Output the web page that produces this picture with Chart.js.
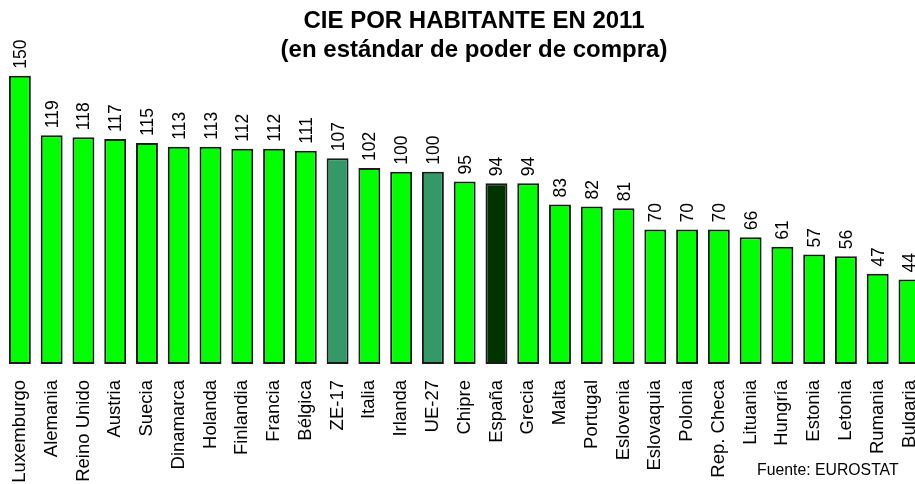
<!DOCTYPE html>
<html>
<head>
<meta charset="utf-8">
<script src="https://cdn.jsdelivr.net/npm/chart.js@4.4.1/dist/chart.umd.min.js"></script>
<style>
  html, body { margin: 0; padding: 0; background: #fff; overflow: hidden; }
  canvas { display: block; }
</style>
</head>
<body>
<canvas id="cieChart" width="948" height="484"></canvas>
<script>
const paises = ['Luxemburgo', 'Alemania', 'Reino Unido', 'Austria', 'Suecia', 'Dinamarca', 'Holanda',
    'Finlandia', 'Francia', 'Bélgica', 'ZE-17', 'Italia', 'Irlanda', 'UE-27', 'Chipre', 'España',
    'Grecia', 'Malta', 'Portugal', 'Eslovenia', 'Eslovaquia', 'Polonia', 'Rep. Checa', 'Lituania',
    'Hungría', 'Estonia', 'Letonia', 'Rumania', 'Bulgaria'];
const valores = [150, 119, 118, 117, 115, 113, 113, 112, 112, 111, 107, 102, 100, 100, 95, 94,
    94, 83, 82, 81, 70, 70, 70, 66, 61, 57, 56, 47, 44];
const titulo = ['CIE POR HABITANTE EN 2011', '(en estándar de poder de compra)'];
const fuente = 'Fuente: EUROSTAT';

const colorFor = (name) => {
    if (name === 'España') return '#003300';
    if (name === 'ZE-17' || name === 'UE-27') return '#339966';
    return '#00FF00';
};

// title, value labels and source text
const textPlugin = {
    id: 'textPlugin',
    afterDatasetsDraw(chart) {
        const ctx = chart.ctx;
        ctx.save();
        ctx.fillStyle = '#000';

        ctx.font = 'bold 24px "Liberation Sans", Arial, sans-serif';
        ctx.textAlign = 'center';
        ctx.textBaseline = 'alphabetic';
        ctx.fillText(titulo[0], 474, 28);
        ctx.fillText(titulo[1], 474, 57);

        ctx.font = '17.5px "Liberation Sans", Arial, sans-serif';
        const meta = chart.getDatasetMeta(0);
        meta.data.forEach((bar, i) => {
            ctx.save();
            ctx.translate(bar.x + 6, bar.y - 7);
            ctx.rotate(-Math.PI / 2);
            ctx.textAlign = 'left';
            ctx.fillText(String(valores[i]), 0, 0);
            ctx.restore();
        });

        ctx.font = '15.8px "Liberation Sans", Arial, sans-serif';
        ctx.textAlign = 'left';
        ctx.fillText(fuente, 757, 475);
        ctx.restore();
    }
};

new Chart(document.getElementById('cieChart'), {
    type: 'bar',
    data: {
        labels: paises,
        datasets: [{
            data: valores,
            backgroundColor: paises.map(colorFor),
            borderColor: '#1a1a1a',
            borderWidth: 2,
            borderSkipped: false,
            categoryPercentage: 1,
            barPercentage: 0.69
        }]
    },
    options: {
        responsive: false,
        animation: false,
        layout: { padding: { top: 18, right: 19, left: 4, bottom: 0 } },
        plugins: {
            legend: { display: false },
            title: { display: false },
            tooltip: { enabled: false }
        },
        scales: {
            x: {
                grid: { display: false, drawTicks: false },
                border: { display: false },
                ticks: {
                    color: '#000',
                    font: { family: '"Liberation Sans", Arial, sans-serif', size: 18.5 },
                    minRotation: 90,
                    maxRotation: 90,
                    autoSkip: false,
                    padding: 16
                },
                afterFit(scale) { scale.height = 120; }
            },
            y: {
                display: false,
                min: 0,
                max: 180
            }
        }
    },
    plugins: [textPlugin]
});
</script>
</body>
</html>
